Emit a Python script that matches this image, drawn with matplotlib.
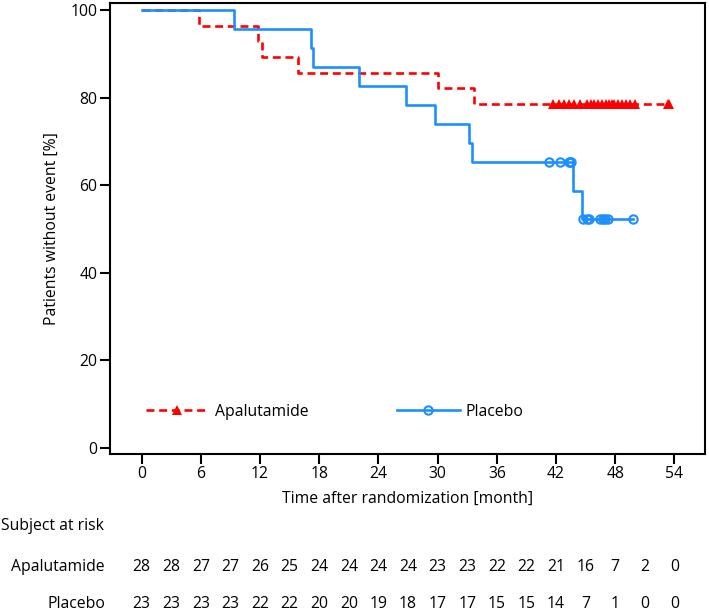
import matplotlib
matplotlib.use("Agg")
import matplotlib.pyplot as plt
from matplotlib.lines import Line2D
from matplotlib.transforms import blended_transform_factory

plt.rcParams['font.family'] = ['Open Sans', 'DejaVu Sans']

# ---- data ----
apa_times = [0, 5.8, 11.8, 12.2, 15.9, 30.0, 33.7, 53.5]
apa_surv = [100, 96.4, 92.9, 89.3, 85.7, 82.1, 78.6, 78.6]
apa_cens_t = [41.7, 42.3, 42.8, 43.3, 43.8, 44.4, 45.1, 45.5, 45.9, 46.3, 46.7,
              47.1, 47.4, 47.7, 47.9, 48.3, 48.7, 49.1, 49.5, 50.0, 53.4, 53.5]
apa_cens_s = [78.6] * 22

pla_times = [0, 9.4, 17.2, 17.4, 22.0, 26.8, 29.7, 33.2, 33.5, 43.7, 44.6, 49.8]
pla_surv = [100, 95.7, 91.3, 87.0, 82.6, 78.3, 73.9, 69.6, 65.2, 58.7, 52.2, 52.2]
pla_cens_t = [41.3, 42.4, 43.3, 43.4, 43.5, 44.7, 45.1, 45.3, 46.5, 46.8, 47.0, 47.3, 49.8]
pla_cens_s = [65.2] * 5 + [52.2] * 8

risk_times = list(range(0, 55, 3))
risk_apa = [28, 28, 27, 27, 26, 25, 24, 24, 24, 24, 23, 23, 22, 22, 21, 16, 7, 2, 0]
risk_pla = [23, 23, 23, 23, 22, 22, 20, 20, 19, 18, 17, 17, 15, 15, 14, 7, 1, 0, 0]

xticks = [0, 6, 12, 18, 24, 30, 36, 42, 48, 54]
yticks = [0, 20, 40, 60, 80, 100]

RED = '#FF0000'
BLUE = '#1E8FFF'
FS = 11.3

W, H = 709, 614
fig = plt.figure(figsize=(W / 100, H / 100), dpi=100)
ax = fig.add_axes([110 / W, 1 - 454 / H, (705 - 110) / W, (454 - 3) / H])

# curves
la, = ax.step(apa_times, apa_surv, where='post', color=RED, lw=1.9, zorder=2)
la.set_dashes([3, 1.8])
ax.plot(apa_cens_t, apa_cens_s, linestyle='none', marker='^', color=RED,
        markersize=7.5, markeredgewidth=0, zorder=4)
ax.step(pla_times, pla_surv, where='post', color=BLUE, lw=1.9, zorder=3)
ax.plot(pla_cens_t, pla_cens_s, linestyle='none', marker='o', color=BLUE,
        markerfacecolor='none', markersize=6, markeredgewidth=1.5, zorder=4)

ax.set_xlim(-3.2, 57.1)
ax.set_ylim(-1.4, 101.6)
ax.set_xticks(xticks)
ax.set_yticks(yticks)
ax.tick_params(axis='both', direction='out', length=7, width=1.5,
               labelsize=FS, pad=2, colors='black')
for s in ax.spines.values():
    s.set_linewidth(1.5)
    s.set_color('black')

ax.set_xlabel('Time after randomization [month]', fontsize=FS)
ax.set_ylabel('Patients without event [%]', fontsize=FS)
ax.xaxis.set_label_coords(0.5, -0.082)
ax.yaxis.set_label_coords(-0.085, 0.5)

# legends
h1 = Line2D([], [], color=RED, lw=1.9, dashes=[3, 1.8], marker='^',
            markersize=7.5, markeredgewidth=0)
h2 = Line2D([], [], color=BLUE, lw=1.9, marker='o', markerfacecolor='none',
            markersize=6, markeredgewidth=1.5)
leg1 = ax.legend([h1], ['Apalutamide'], loc='center left',
                 bbox_to_anchor=(0.06, 0.094), frameon=False, fontsize=FS,
                 handlelength=4.0, handletextpad=0.4, borderpad=0,
                 borderaxespad=0)
ax.add_artist(leg1)
ax.legend([h2], ['Placebo'], loc='center left',
          bbox_to_anchor=(0.482, 0.094), frameon=False, fontsize=FS,
          handlelength=4.0, handletextpad=0.4, borderpad=0, borderaxespad=0)

# risk table
trans = blended_transform_factory(ax.transData, fig.transFigure)
y_sub = 1 - 526 / H
y_apa = 1 - 567 / H
y_pla = 1 - 604 / H
fig.text(1 / W, y_sub, 'Subject at risk', fontsize=FS, ha='left', va='center')
fig.text(105 / W, y_apa, 'Apalutamide', fontsize=FS, ha='right', va='center')
fig.text(105 / W, y_pla, 'Placebo', fontsize=FS, ha='right', va='center')
for t, a, p in zip(risk_times, risk_apa, risk_pla):
    ax.text(t, y_apa, str(a), transform=trans, fontsize=FS, ha='center',
            va='center', clip_on=False)
    ax.text(t, y_pla, str(p), transform=trans, fontsize=FS, ha='center',
            va='center', clip_on=False)

fig.savefig('out.png', dpi=100)
